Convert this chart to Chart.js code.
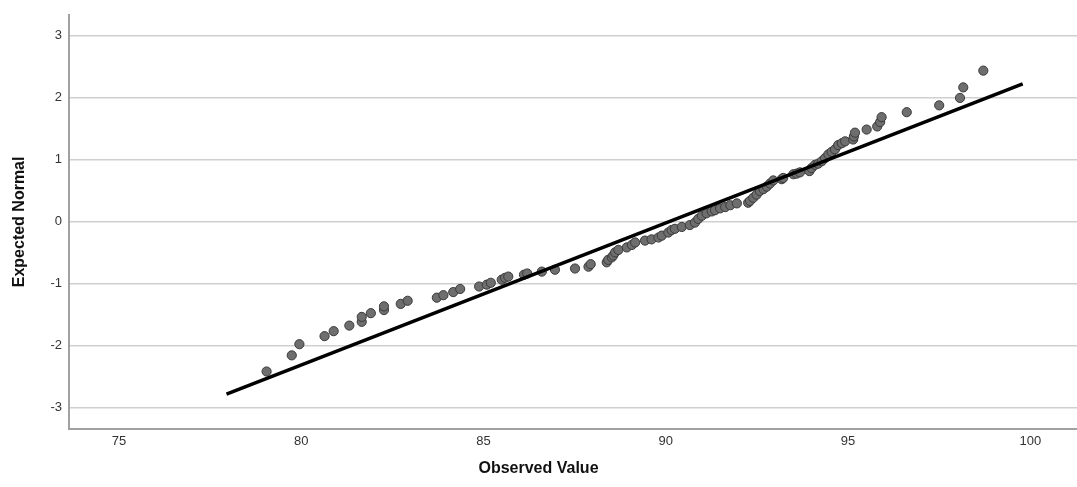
<!DOCTYPE html>
<html>
<head>
<meta charset="utf-8">
<title>Normal Q-Q Plot</title>
<script src="https://cdn.jsdelivr.net/npm/chart.js@4/dist/chart.umd.min.js"></script>
<style>
  html, body { margin: 0; padding: 0; background: #ffffff; }
  #wrap { width: 1077px; height: 487px; }
</style>
</head>
<body>
<div id="wrap"><canvas id="qq" width="1077" height="487"></canvas></div>
<script>
// Observed values (sorted) and their expected normal scores
const observedValue = [
  79.05, 79.74, 79.95, 80.64, 80.89, 81.32, 81.66, 81.66, 81.91, 82.27,
  82.27, 82.73, 82.92, 83.72, 83.90, 84.17, 84.36, 84.88, 85.09, 85.20,
  85.50, 85.59, 85.68, 86.11, 86.20, 86.60, 86.96, 87.51, 87.88, 87.94,
  88.38, 88.42, 88.52, 88.56, 88.61, 88.70, 88.93, 89.07, 89.16, 89.43,
  89.61, 89.80, 89.89, 90.07, 90.16, 90.25, 90.44, 90.66, 90.80, 90.89,
  90.99, 91.12, 91.26, 91.35, 91.49, 91.63, 91.77, 91.95, 92.26, 92.31,
  92.40, 92.49, 92.58, 92.68, 92.77, 92.86, 92.95, 93.18, 93.22, 93.50,
  93.59, 93.68, 93.94, 94.00, 94.09, 94.18, 94.28, 94.37, 94.46, 94.55,
  94.64, 94.73, 94.83, 94.92, 95.14, 95.16, 95.19, 95.51, 95.80, 95.88,
  95.92, 96.61, 97.50, 98.07, 98.16, 98.71
];
const expectedNormal = [
  -2.42, -2.16, -1.98, -1.85, -1.77, -1.68, -1.62, -1.54, -1.48, -1.43,
  -1.37, -1.33, -1.28, -1.23, -1.19, -1.14, -1.09, -1.05, -1.02, -0.99,
  -0.94, -0.91, -0.89, -0.86, -0.84, -0.81, -0.78, -0.76, -0.73, -0.69,
  -0.66, -0.62, -0.58, -0.55, -0.50, -0.46, -0.42, -0.38, -0.34, -0.31,
  -0.29, -0.26, -0.23, -0.18, -0.14, -0.12, -0.09, -0.06, -0.02, 0.04,
  0.09, 0.13, 0.16, 0.18, 0.21, 0.23, 0.26, 0.29, 0.30, 0.33,
  0.38, 0.43, 0.49, 0.52, 0.56, 0.61, 0.66, 0.68, 0.70, 0.76,
  0.77, 0.79, 0.81, 0.86, 0.91, 0.93, 0.97, 1.02, 1.08, 1.12,
  1.16, 1.23, 1.26, 1.29, 1.32, 1.37, 1.43, 1.48, 1.53, 1.60,
  1.68, 1.76, 1.87, 1.99, 2.16, 2.43
];

// Reference line endpoints
const lineObserved = [77.95, 99.79];
const lineExpected = [-2.785, 2.218];

// Axis ticks
const xTicks = [75, 80, 85, 90, 95, 100];
const yTicks = [-3, -2, -1, 0, 1, 2, 3];

const points = observedValue.map((x, i) => ({ x: x, y: expectedNormal[i] }));
const refLine = lineObserved.map((x, i) => ({ x: x, y: lineExpected[i] }));

const tickFont = { family: '"Liberation Sans", Arial, sans-serif', size: 13 };
const titleFont = { family: '"Liberation Sans", Arial, sans-serif', size: 16, weight: 'bold' };

// Stretch the plot area to the right edge of the canvas
const fullWidthArea = {
  id: 'fullWidthArea',
  afterLayout(chart) {
    const area = chart.chartArea;
    area.right = chart.width;
    area.width = area.right - area.left;
    const x = chart.scales.x;
    x.right = chart.width;
    x.width = x.right - x.left;
    x.configure();
  }
};

new Chart(document.getElementById('qq'), {
  type: 'scatter',
  data: {
    datasets: [
      {
        label: 'Observed',
        data: points,
        backgroundColor: '#6e6e6e',
        borderColor: '#3a3a3a',
        borderWidth: 1,
        pointRadius: 4.6,
        pointHoverRadius: 4.6,
        order: 1
      },
      {
        type: 'line',
        label: 'Normal line',
        data: refLine,
        borderColor: '#000000',
        borderWidth: 3.5,
        pointRadius: 0,
        fill: false,
        order: 0
      }
    ]
  },
  plugins: [fullWidthArea],
  options: {
    responsive: false,
    animation: false,
    layout: { padding: { top: 13, right: 0, left: 0, bottom: 0 } },
    plugins: {
      legend: { display: false },
      tooltip: { enabled: false },
      title: {
        display: true,
        position: 'bottom',
        text: 'Observed Value',
        color: '#111111',
        font: titleFont,
        padding: { top: 6, bottom: 9 }
      }
    },
    scales: {
      x: {
        type: 'linear',
        min: 73.63,
        max: 101.28,
        afterBuildTicks: s => { s.ticks = xTicks.map(v => ({ value: v })); },
        afterFit: s => { s.height = 23.8; },
        grid: { display: false, drawTicks: false },
        border: { display: true, color: '#a0a0a0', width: 2 },
        ticks: { color: '#333333', font: tickFont, padding: 5, maxRotation: 0 }
      },
      y: {
        type: 'linear',
        min: -3.347,
        max: 3.33,
        afterBuildTicks: s => { s.ticks = yTicks.map(v => ({ value: v })); },
        afterFit: s => { s.width = 69; },
        grid: { color: '#cfcfcf', lineWidth: 1.5, drawTicks: false },
        border: { display: true, color: '#a0a0a0', width: 2 },
        ticks: { color: '#333333', font: tickFont, padding: 7 },
        title: {
          display: true,
          text: 'Expected Normal',
          color: '#111111',
          font: titleFont,
          padding: { top: 10, bottom: 0 }
        }
      }
    }
  }
});
</script>
</body>
</html>
